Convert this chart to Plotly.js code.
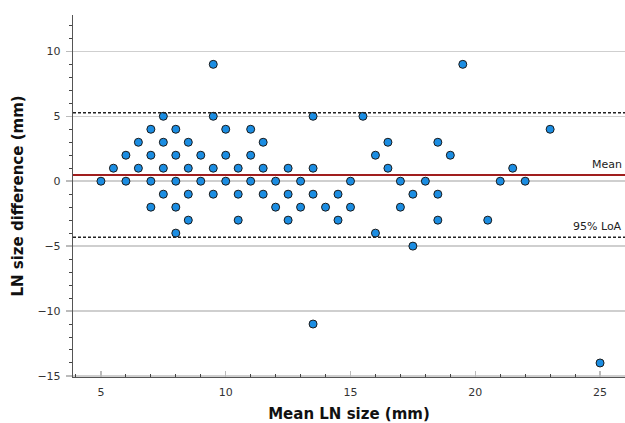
<!DOCTYPE html>
<html>
<head>
<meta charset="utf-8">
<script src="https://cdn.plot.ly/plotly-3.0.1.min.js"></script>
<style>html,body{margin:0;padding:0;background:#fff;overflow:hidden}#chart{width:625px;height:423px}</style>
</head>
<body>
<div id="chart"></div>
<script>
// Mean LN size (mm) and LN size difference (mm) for each lymph node
const meanSize = [
  9.5, 19.5,
  7.5, 9.5, 13.5, 15.5,
  7, 8, 10, 11, 23,
  6.5, 7.5, 8.5, 11.5, 16.5, 18.5,
  6, 7, 8, 9, 10, 11, 16, 19,
  5.5, 6.5, 7.5, 8.5, 9.5, 10.5, 11.5, 12.5, 13.5, 16.5, 21.5,
  5, 6, 7, 8, 9, 10, 11, 12, 13, 15, 17, 18, 21, 22,
  7.5, 8.5, 9.5, 10.5, 11.5, 12.5, 13.5, 14.5, 17.5, 18.5,
  7, 8, 12, 13, 14, 15, 17,
  8.5, 10.5, 12.5, 14.5, 18.5, 20.5,
  8, 16,
  17.5,
  13.5,
  25
];
const sizeDiff = [
  9, 9,
  5, 5, 5, 5,
  4, 4, 4, 4, 4,
  3, 3, 3, 3, 3, 3,
  2, 2, 2, 2, 2, 2, 2, 2,
  1, 1, 1, 1, 1, 1, 1, 1, 1, 1, 1,
  0, 0, 0, 0, 0, 0, 0, 0, 0, 0, 0, 0, 0, 0,
  -1, -1, -1, -1, -1, -1, -1, -1, -1, -1,
  -2, -2, -2, -2, -2, -2, -2,
  -3, -3, -3, -3, -3, -3,
  -4, -4,
  -5,
  -11,
  -14
];
// Bland-Altman statistics
const meanDiff = 0.48;
const loaUpper = 5.28;
const loaLower = -4.32;
const lineLabels = ["Mean", "95% LoA"];

const trace = {
  x: meanSize, y: sizeDiff, type: 'scatter', mode: 'markers',
  marker: {size: 8, color: '#1b8de2', line: {color: '#1a1a1a', width: 1}},
  hoverinfo: 'x+y', cliponaxis: false
};

const layout = {
  width: 625, height: 423,
  margin: {l: 73, r: 0, t: 15, b: 46},
  paper_bgcolor: '#fff', plot_bgcolor: '#fff',
  font: {family: 'DejaVu Sans, sans-serif', size: 11, color: '#333'},
  showlegend: false,
  xaxis: {
    range: [3.88, 26.0], dtick: 5, tick0: 0,
    ticks: 'inside', ticklen: 6, tickcolor: '#bbb', tickwidth: 1.5,
    minor: {dtick: 1, ticks: 'inside', ticklen: 3, tickcolor: '#444', tickwidth: 1, showgrid: false},
    showgrid: false, zeroline: false,
    showline: true, linecolor: '#555', linewidth: 1.2,
    ticklabelstandoff: 5,
    tickfont: {size: 11, color: '#333'},
    title: {text: 'Mean LN size (mm)', font: {size: 15, color: '#111', weight: 'bold'}, standoff: 12}
  },
  yaxis: {
    range: [-15.08, 12.8], dtick: 5, tick0: 0,
    ticks: 'outside', ticklen: 6, tickcolor: '#bbb', tickwidth: 1.5,
    minor: {dtick: 1, ticks: 'outside', ticklen: 3, tickcolor: '#444', tickwidth: 1, showgrid: false},
    showgrid: true, gridcolor: '#cfcfcf', gridwidth: 1.5,
    zeroline: false,
    showline: true, linecolor: '#555', linewidth: 1.2,
    ticklabelstandoff: 3,
    tickfont: {size: 11, color: '#333'},
    title: {text: 'LN size difference (mm)', font: {size: 15, color: '#111', weight: 'bold'}, standoff: 10}
  },
  shapes: [
    {type: 'line', xref: 'paper', x0: 0, x1: 1, yref: 'y', y0: meanDiff, y1: meanDiff,
     line: {color: '#a01e1e', width: 2}},
    {type: 'line', xref: 'paper', x0: 0, x1: 1, yref: 'y', y0: loaUpper, y1: loaUpper,
     line: {color: '#222', width: 1.5, dash: '3px,2px'}},
    {type: 'line', xref: 'paper', x0: 0, x1: 1, yref: 'y', y0: loaLower, y1: loaLower,
     line: {color: '#222', width: 1.5, dash: '3px,2px'}}
  ],
  annotations: [
    {text: lineLabels[0], xref: 'paper', x: 1, yref: 'y', y: meanDiff, xanchor: 'right', yanchor: 'bottom',
     xshift: -1, yshift: 2, showarrow: false, font: {size: 11, color: '#222'}},
    {text: lineLabels[1], xref: 'paper', x: 1, yref: 'y', y: loaLower, xanchor: 'right', yanchor: 'bottom',
     xshift: -1, yshift: 2, showarrow: false, font: {size: 11, color: '#222'}}
  ]
};

Plotly.newPlot('chart', [trace], layout, {displayModeBar: false, staticPlot: true});
</script>
</body>
</html>
